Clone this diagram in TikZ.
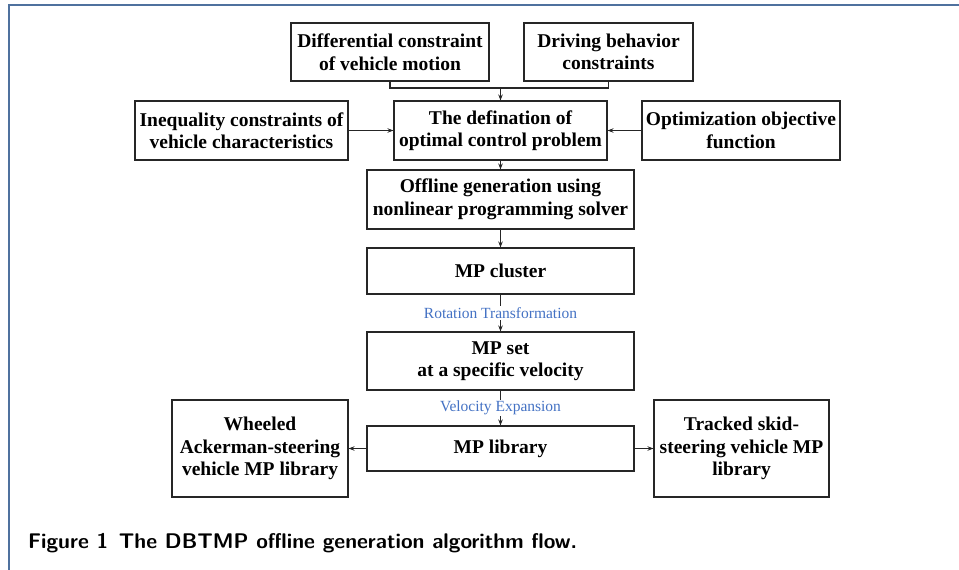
\documentclass[tikz,border=0pt]{standalone}
\usepackage{fontspec}
\setmainfont{Liberation Serif}
\usetikzlibrary{arrows.meta}

\definecolor{framecol}{RGB}{79,113,158}
\definecolor{labelcol}{RGB}{68,114,196}

\tikzset{
  flowbox/.style={draw=black!85,line width=1.1pt,inner sep=0pt,align=center,
    font=\bfseries\fontsize{19.5}{22.5}\selectfont},
  flowarrow/.style={-{Stealth[length=6pt,width=4.5pt]},draw=black!85,line width=1.1pt},
  flowline/.style={draw=black!85,line width=1.1pt},
  steplabel/.style={fill=white,inner sep=1pt,text=labelcol,font=\fontsize{15.5}{17}\selectfont}
}

\begin{document}
\begin{tikzpicture}[x=1pt,y=-1pt]
			\useasboundingbox (0,0) rectangle (959,570);
			% frame of the figure
			\draw[framecol,line width=1.4pt] (9,570) -- (9,5) -- (959,5);
			% top row
			\node[flowbox,minimum width=198pt,minimum height=58pt] (diff) at (390,52) {Differential constraint\\of vehicle motion};
			\node[flowbox,minimum width=169pt,minimum height=58pt] (drive) at (608.5,52) {Driving behavior\\constraints};
			% problem definition row
			\node[flowbox,minimum width=213pt,minimum height=59pt] (ineq) at (241.5,130.5) {Inequality constraints of\\vehicle characteristics};
			\node[flowbox,minimum width=213pt,minimum height=59pt] (defn) at (500.5,130.5) {The defination of\\optimal control problem};
			\node[flowbox,minimum width=198pt,minimum height=59pt] (optim) at (741,130.5) {Optimization objective\\function};
			% main column
			\node[flowbox,minimum width=267pt,minimum height=59pt] (offline) at (500.5,199.5) {Offline generation using\\nonlinear programming solver};
			\node[flowbox,minimum width=267pt,minimum height=46pt] (cluster) at (500.5,271) {MP cluster};
			\node[flowbox,minimum width=267pt,minimum height=58pt] (mpset) at (500.5,361) {MP set\\at a specific velocity};
			\node[flowbox,minimum width=267pt,minimum height=45pt] (library) at (500.5,448.5) {MP library};
			% vehicle libraries
			\node[flowbox,minimum width=176pt,minimum height=97pt] (wheeled) at (260,448.5) {Wheeled\\Ackerman-steering\\vehicle MP library};
			\node[flowbox,minimum width=175pt,minimum height=97pt] (tracked) at (741.5,448.5) {Tracked skid-\\steering vehicle MP\\library};
			% connectors
			\coordinate (join) at (500.5,88);
			\draw[flowline] (diff.south) |- (join) -| (drive.south);
			\draw[flowarrow] (join) -- (defn.north);
			\draw[flowarrow] (ineq.east) -- (defn.west);
			\draw[flowarrow] (optim.west) -- (defn.east);
			\draw[flowarrow] (defn.south) -- (offline.north);
			\draw[flowarrow] (offline.south) -- (cluster.north);
			\draw[flowarrow] (cluster.south) -- node[steplabel] (rotlabel) {Rotation Transformation} (mpset.north);
			\draw[flowarrow] (mpset.south) -- node[steplabel] (vellabel) {Velocity Expansion} (library.north);
			\draw[flowarrow] (library.west) -- (wheeled.east);
			\draw[flowarrow] (library.east) -- (tracked.west);
			% caption
			\node[anchor=west,inner sep=0pt,font=\sffamily\bfseries\fontsize{21.2}{25}\selectfont] (caption) at (28,543) {Figure 1\hspace{0.5em}The DBTMP offline generation algorithm flow.};
		\end{tikzpicture}
\end{document}
